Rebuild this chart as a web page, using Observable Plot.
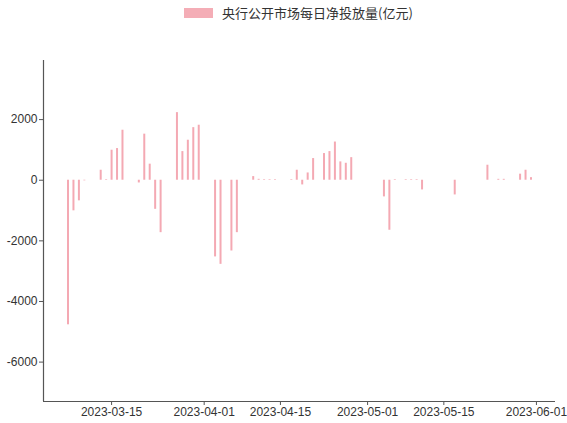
<!DOCTYPE html>
<html>
<head>
<meta charset="utf-8">
<script src="https://cdn.jsdelivr.net/npm/d3@7"></script>
<script src="https://cdn.jsdelivr.net/npm/@observablehq/plot@0.6"></script>
<style>
  html, body { margin: 0; padding: 0; background: #fff; }
  #wrap { position: relative; width: 567px; height: 423px; }
  #legend { position: absolute; left: 184px; top: 3px; display: flex; align-items: center;
    font-family: "Noto Sans CJK SC", sans-serif; font-size: 13px; color: #333; }
  #legend .sw { width: 29px; height: 10px; background: #f4adb6; margin-right: 9px; }
</style>
</head>
<body>
<div id="wrap"><div id="legend"><span class="sw"></span><span>央行公开市场每日净投放量(亿元)</span></div></div>
<script>
const seriesName = "央行公开市场每日净投放量(亿元)";
const dates = [
  "2023-03-07","2023-03-08","2023-03-09","2023-03-10",
  "2023-03-13","2023-03-14","2023-03-15","2023-03-16","2023-03-17",
  "2023-03-20","2023-03-21","2023-03-22","2023-03-23","2023-03-24",
  "2023-03-27","2023-03-28","2023-03-29","2023-03-30","2023-03-31",
  "2023-04-03","2023-04-04","2023-04-06","2023-04-07",
  "2023-04-10","2023-04-11","2023-04-12","2023-04-13","2023-04-14",
  "2023-04-17","2023-04-18","2023-04-19","2023-04-20","2023-04-21",
  "2023-04-23","2023-04-24","2023-04-25","2023-04-26","2023-04-27","2023-04-28",
  "2023-05-04","2023-05-05","2023-05-06",
  "2023-05-08","2023-05-09","2023-05-10","2023-05-11",
  "2023-05-17","2023-05-23","2023-05-25","2023-05-26",
  "2023-05-29","2023-05-30","2023-05-31"
];
const values = [
  -4770, -1010, -680, -20,
  330, 20, 990, 1045, 1650,
  -90, 1520, 530, -960, -1730,
  2230, 945, 1320, 1735, 1815,
  -2530, -2775, -2335, -1730,
  120, 30, 20, 20, 20,
  20, 330, -155, 240, 715,
  880, 945, 1260, 605, 560, 745,
  -550, -1650, 20,
  20, 20, 20, -320,
  -485, 495, 30, 30,
  200, 330, 85
];
const xTicks = ["2023-03-15","2023-04-01","2023-04-15","2023-05-01","2023-05-15","2023-06-01"];
const yTicks = [-6000, -4000, -2000, 0, 2000];
const xDomain = ["2023-03-02T12:00Z", "2023-06-04T12:00Z"];
const yDomain = [-7300, 3950];

const data = dates.map((d, i) => ({date: new Date(d + "T00:00Z"), value: values[i]}));
const xd = xDomain.map(d => new Date(d));

const chart = Plot.plot({
  width: 567,
  height: 423,
  marginTop: 60,
  marginBottom: 22,
  marginLeft: 43,
  marginRight: 12,
  style: {fontFamily: "'Liberation Sans', Arial, sans-serif", fontSize: "12px", color: "#333", background: "transparent"},
  x: {type: "utc", domain: xd},
  y: {domain: yDomain},
  marks: [
    Plot.ruleX(data, {x: "date", y1: 0, y2: "value", stroke: "#f4a9b3", strokeWidth: 2}),
    Plot.axisX(xTicks.map(d => new Date(d + "T00:00Z")), {label: null, tickFormat: d3.utcFormat("%Y-%m-%d"), tickSize: 4, tickPadding: 2, stroke: "#555", fill: "#333"}),
    Plot.axisY(yTicks, {label: null, tickSize: 4, tickPadding: 2, tickFormat: d => String(d).replace("−", "-"), stroke: "#555", fill: "#333"}),
    Plot.ruleX([xd[0]], {stroke: "#555", strokeWidth: 1.2}),
    Plot.ruleY([yDomain[0]], {stroke: "#555", strokeWidth: 1.2})
  ]
});
document.getElementById("wrap").appendChild(chart);
</script>
</body>
</html>
